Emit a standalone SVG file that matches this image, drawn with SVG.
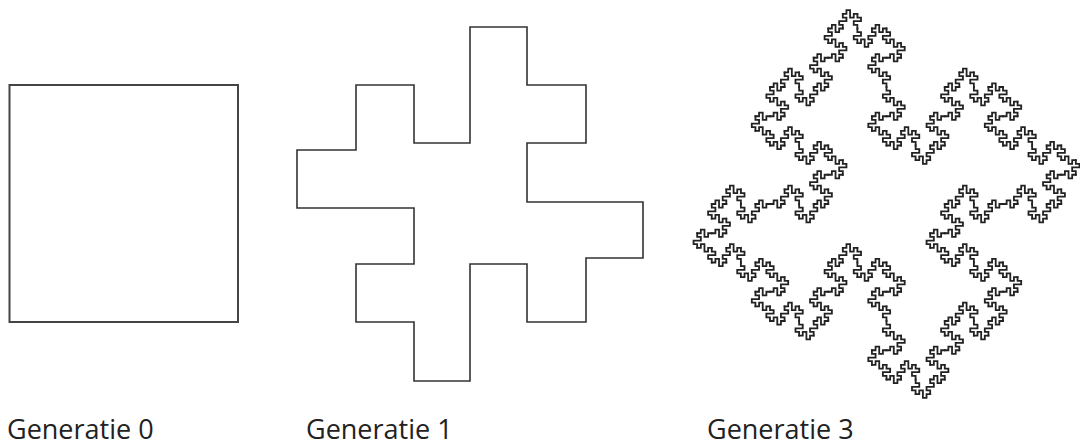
<svg xmlns="http://www.w3.org/2000/svg" xmlns:xlink="http://www.w3.org/1999/xlink" width="1080" height="446" viewBox="0 0 1080 446">
<style>
.ln{fill:none;stroke:#333;stroke-width:1.6;stroke-linejoin:miter;stroke-linecap:square}
.g0{fill:none;stroke:#444;stroke-width:2}
.k{fill:none;stroke:#222;stroke-width:1.8;stroke-linejoin:miter;stroke-linecap:square;vector-effect:non-scaling-stroke}
.lbl{font-family:"Open Sans","Noto Sans",sans-serif;font-size:27px;fill:#222}
</style>
<defs>
<path id="k1" class="k" d="M0 0H0.25V-0.25H0.5V0.25H0.75V0H1"/>
<g id="k2">
<use xlink:href="#k1" href="#k1" transform="scale(0.25)"/>
<use xlink:href="#k1" href="#k1" transform="translate(0.25 0) rotate(-90) scale(0.25)"/>
<use xlink:href="#k1" href="#k1" transform="translate(0.25 -0.25) scale(0.25)"/>
<use xlink:href="#k1" href="#k1" transform="translate(0.5 -0.25) rotate(90) scale(0.25)"/>
<use xlink:href="#k1" href="#k1" transform="translate(0.5 0) rotate(90) scale(0.25)"/>
<use xlink:href="#k1" href="#k1" transform="translate(0.5 0.25) scale(0.25)"/>
<use xlink:href="#k1" href="#k1" transform="translate(0.75 0.25) rotate(-90) scale(0.25)"/>
<use xlink:href="#k1" href="#k1" transform="translate(0.75 0) scale(0.25)"/>
</g>
<g id="k3">
<use xlink:href="#k2" href="#k2" transform="scale(0.25)"/>
<use xlink:href="#k2" href="#k2" transform="translate(0.25 0) rotate(-90) scale(0.25)"/>
<use xlink:href="#k2" href="#k2" transform="translate(0.25 -0.25) scale(0.25)"/>
<use xlink:href="#k2" href="#k2" transform="translate(0.5 -0.25) rotate(90) scale(0.25)"/>
<use xlink:href="#k2" href="#k2" transform="translate(0.5 0) rotate(90) scale(0.25)"/>
<use xlink:href="#k2" href="#k2" transform="translate(0.5 0.25) scale(0.25)"/>
<use xlink:href="#k2" href="#k2" transform="translate(0.75 0.25) rotate(-90) scale(0.25)"/>
<use xlink:href="#k2" href="#k2" transform="translate(0.75 0) scale(0.25)"/>
</g>
</defs>
<g id="generatie0">
<rect class="g0" x="9.5" y="85" width="228.5" height="237"/>
<text class="lbl" x="7" y="439">Generatie 0</text>
</g>
<g id="generatie1">
<path class="ln" d="M356 85H414V143H470V27H527V85H586V143H527V202H643V258H586V322H527V264H470V381H414V322H356V264H414V208H297V150H356Z"/>
<text class="lbl" x="306" y="439">Generatie 1</text>
</g>
<g id="generatie3">
<g transform="translate(770 87) scale(233 234)">
<use xlink:href="#k3" href="#k3"/>
<use xlink:href="#k3" href="#k3" transform="translate(1 0) rotate(90)"/>
<use xlink:href="#k3" href="#k3" transform="translate(1 1) rotate(180)"/>
<use xlink:href="#k3" href="#k3" transform="translate(0 1) rotate(270)"/>
</g>
<text class="lbl" x="707" y="439">Generatie 3</text>
</g>
</svg>
